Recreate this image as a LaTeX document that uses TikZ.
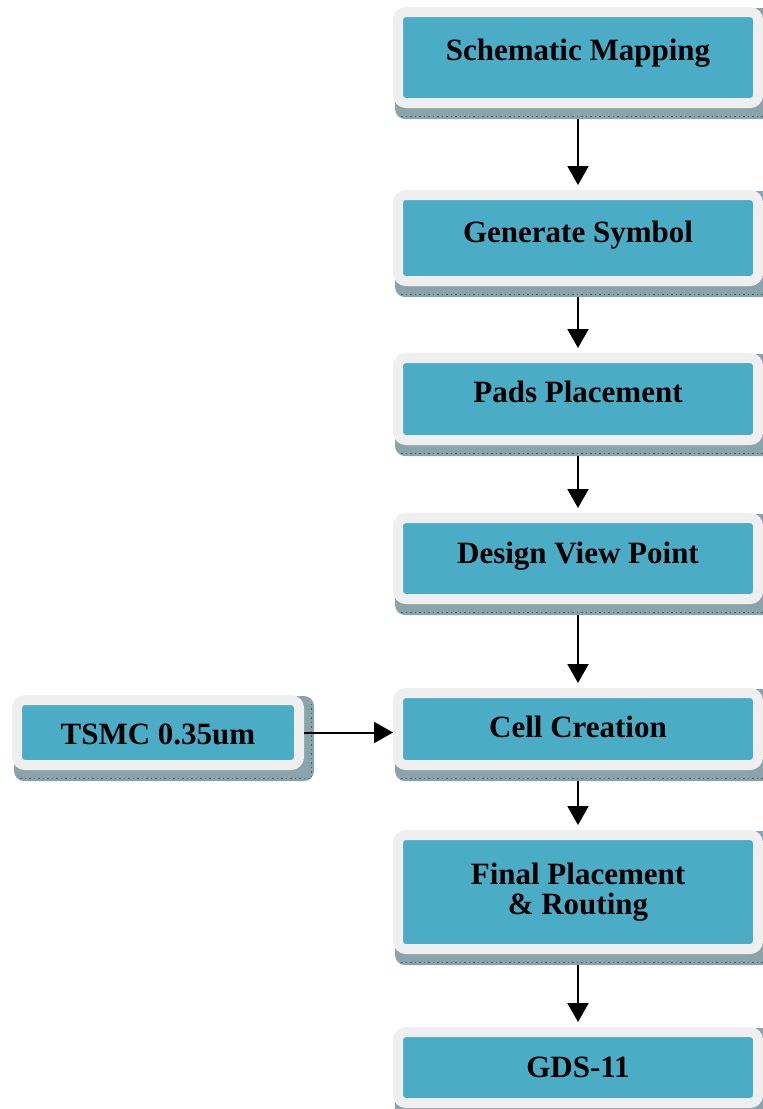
\documentclass[tikz,border=0pt]{standalone}
\usepackage{fontspec}
\setmainfont{Liberation Serif}
\usetikzlibrary{arrows.meta, backgrounds}
\definecolor{flowFill}{HTML}{4BACC6}
\definecolor{flowRim}{HTML}{EFEFEF}
\definecolor{flowShade}{HTML}{8BA4AC}
\definecolor{flowDash}{HTML}{3F6470}
\tikzset{
  flowfig/.style={
    x=1pt, y=1pt,
    >={Triangle[width=21pt, length=19pt]},
  },
  stepbox/.style={
    draw=flowRim, line width=10pt, fill=flowFill, rounded corners=8pt,
    font=\fontsize{31}{30}\selectfont\bfseries, align=center,
    inner sep=0pt, minimum width=360pt,
  },
  sidebox/.style={stepbox, minimum width=282pt},
  % Text sitzt etwas oberhalb der Kastenmitte.
  lift/.style={text height=22pt, text depth=#1},
  flow/.style={draw=black, line width=2pt, ->},
  shade/.style={fill=flowShade, rounded corners=10pt},
  shadedash/.style={draw=flowDash, line width=1pt, dash pattern=on 1.5pt off 3pt},
}
\begin{document}
\begin{tikzpicture}[flowfig]
  \useasboundingbox (0,0) rectangle (763,-1109);
  \node[stepbox, minimum height=91pt, lift=17pt] (Mapping) at (578,-57.5) {Schematic Mapping};
  \node[stepbox, minimum height=86pt, lift=14pt] (Symbol) at (578,-238) {Generate Symbol};
  \node[stepbox, minimum height=82pt, lift=16pt] (Pads) at (578,-399) {Pads Placement};
  \node[stepbox, minimum height=81pt, lift=13pt] (ViewPoint) at (578,-558.5) {Design View Point};
  \node[stepbox, minimum height=72pt, lift=5pt] (Cell) at (578,-729) {Cell Creation};
  \node[stepbox, minimum height=114pt] (Routing) at (578,-892) {Final Placement\\\& Routing};
  \node[stepbox, minimum height=71pt, lift=1.5pt] (GDS) at (578,-1067.5) {GDS-11};
  \node[sidebox, minimum height=65pt, text height=25pt, text depth=0.5pt] (TSMC) at (158,-732.5) {TSMC 0.35um};
  \begin{scope}[on background layer]
    \foreach \n in {Mapping, Symbol, Pads, ViewPoint, Cell, Routing, GDS, TSMC} {
      \fill[shade] ([xshift=2pt, yshift=-11pt]\n.south west) rectangle ([xshift=10pt, yshift=-1pt]\n.north east);
      \draw[shadedash] ([xshift=8pt, yshift=-8pt]\n.south west) -- ([xshift=7.5pt, yshift=-8pt]\n.south east)
        -- ([xshift=7.5pt, yshift=-8pt]\n.north east);
    }
  \end{scope}
  \draw[flow, shorten <=11pt, shorten >=5pt] (Mapping) -- (Symbol);
  \draw[flow, shorten <=11pt, shorten >=5pt] (Symbol) -- (Pads);
  \draw[flow, shorten <=11pt, shorten >=5pt] (Pads) -- (ViewPoint);
  \draw[flow, shorten <=11pt, shorten >=5pt] (ViewPoint) -- (Cell);
  \draw[flow, shorten <=11pt, shorten >=5pt] (Cell) -- (Routing);
  \draw[flow, shorten <=11pt, shorten >=5pt] (Routing) -- (GDS);
  \draw[flow] (TSMC.east) -- (TSMC.east -| Cell.west);
\end{tikzpicture}
\end{document}
